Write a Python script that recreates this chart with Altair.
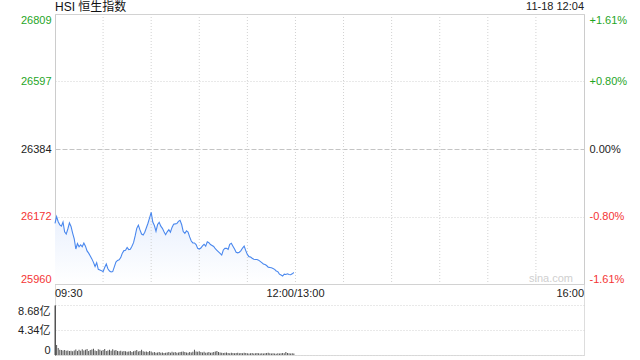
import json
import altair as alt
import pandas as pd

title_text = "HSI 恒生指数"
stamp_text = "11-18 12:04"
watermark = "sina.com"

prices = [
    26151, 26172, 26156, 26146, 26142, 26155, 26124, 26117, 26133, 26152,
    26141, 26120, 26102, 26070, 26087, 26077, 26083, 26077, 26089, 26079,
    26064, 26057, 26048, 26039, 26028, 26015, 26027, 26006, 26004, 26002,
    25999, 26012, 26023, 26008, 26001, 25998, 25999, 26014, 26029, 26034,
    26036, 26043, 26057, 26065, 26066, 26075, 26068, 26069, 26079, 26090,
    26111, 26135, 26145, 26130, 26117, 26114, 26123, 26137, 26151, 26168,
    26185, 26155, 26144, 26126, 26147, 26154, 26142, 26135, 26124, 26115,
    26124, 26131, 26123, 26138, 26148, 26149, 26150, 26157, 26160, 26147,
    26125, 26119, 26127, 26123, 26108, 26095, 26089, 26089, 26084, 26072,
    26070, 26073, 26080, 26085, 26079, 26093, 26090, 26084, 26081, 26078,
    26071, 26066, 26061, 26056, 26051, 26067, 26072, 26072, 26069, 26085,
    26088, 26079, 26070, 26060, 26058, 26060, 26065, 26073, 26079, 26065,
    26053, 26046, 26045, 26041, 26038, 26037, 26037, 26035, 26031, 26027,
    26023, 26021, 26018, 26013, 26012, 26011, 26009, 26006, 26001, 25999,
    25991, 25988, 25985, 25991, 25990, 25992, 25990, 25989, 25992, 25996,
]

volumes = [
    8.6, 1.75, 1.2, 0.9, 0.85, 0.8, 0.85, 0.75, 0.8, 0.7,
    0.75, 0.65, 0.8, 0.95, 0.7, 0.9, 0.75, 1.0, 0.8, 0.9,
    1.05, 0.7, 0.85, 0.95, 1.1, 0.8, 0.7, 1.0, 0.9, 0.75,
    0.85, 1.05, 0.7, 0.8, 0.9, 0.75, 1.0, 0.8, 0.85, 0.7,
    0.65, 0.75, 0.6, 0.7, 0.65, 0.55, 0.6, 0.7, 0.5, 0.65,
    0.75, 0.85, 0.6, 0.7, 0.9, 0.65, 0.55, 0.6, 0.5, 0.7,
    0.6, 0.45, 0.5, 0.4, 0.45, 0.5, 0.4, 0.45, 0.35, 0.4,
    0.45, 0.5, 0.4, 0.55, 0.45, 0.5, 0.4, 0.45, 0.5, 0.55,
    0.6, 0.5, 0.45, 0.4, 0.5, 0.45, 0.55, 0.9, 0.6, 0.55,
    0.65, 0.5, 0.45, 0.55, 0.4, 0.45, 0.5, 0.4, 0.45, 0.5,
    0.6, 0.7, 0.5, 0.45, 0.4, 0.35, 0.4, 0.45, 0.35, 0.3,
    0.4, 0.35, 0.3, 0.35, 0.4, 0.3, 0.35, 0.3, 0.4, 0.35,
    0.3, 0.25, 0.3, 0.35, 0.25, 0.3, 0.35, 0.3, 0.25, 0.3,
    0.25, 0.3, 0.35, 0.4, 0.3, 0.25, 0.3, 0.25, 0.2, 0.3,
    0.25, 0.3, 0.35, 0.3, 0.5, 0.35, 0.3, 0.25, 0.3, 0.25,
]

minutes = list(range(len(prices)))  # minutes since 09:30 (trading time)

y_ticks = [25960, 26172, 26384, 26597, 26809]
pct_labels = ["-1.61%", "-0.80%", "0.00%", "+0.80%", "+1.61%"]
prev_close = 26384
x_ticks = [0, 150, 330]
x_labels = ["09:30", "12:00/13:00", "16:00"]
grid_minutes = [30, 60, 90, 120, 150, 180, 210, 240, 270, 300]
vol_ticks = [0, 4.34, 8.68]
vol_labels = ["0", "4.34亿", "8.68亿"]

GREEN = "#1fa51f"
RED = "#f43434"
FONT = "Liberation Sans, Noto Sans CJK SC"

df = pd.DataFrame({"t": minutes, "price": prices, "vol": volumes})
grid_df = pd.DataFrame({"g": grid_minutes})
one = pd.DataFrame({"k": [0]})

PH = 270  # price panel height
W = 529
H = 341

xscale = alt.Scale(domain=[0, 330], nice=False, zero=False, padding=0)
pscale = alt.Scale(domain=[y_ticks[0], y_ticks[-1]], range=[PH, 0], nice=False, zero=False)
vscale = alt.Scale(domain=[vol_ticks[0], vol_ticks[-1]], range=[H, H - 50], nice=False, zero=True)

label_color = {
    "condition": [
        {"test": f"datum.value > {prev_close}", "value": GREEN},
        {"test": f"datum.value < {prev_close}", "value": RED},
    ],
    "value": "#222222",
}

left_axis = alt.Axis(
    orient="left", values=y_ticks, format="d", labelFlush=True, ticks=False, tickSize=0,
    labelPadding=4, domain=True, domainColor="#cccccc", grid=True,
    gridColor={"condition": {"test": f"datum.value == {prev_close}", "value": "#c4c4c4"}, "value": "#d2d2d2"},
    gridDash={
        "condition": [
            {"test": f"datum.value == {prev_close}", "value": [5, 2]},
            {"test": f"datum.value == {y_ticks[0]} || datum.value == {y_ticks[-1]}", "value": []},
        ],
        "value": [1, 2],
    },
    labelColor=label_color, labelFontSize=11, labelFont=FONT, title=None,
)

right_axis = alt.Axis(
    orient="right", values=y_ticks, labelFlush=True, ticks=False, tickSize=0,
    labelPadding=5, domain=True, domainColor="#cccccc", grid=False,
    labelExpr=f"{json.dumps(pct_labels)}[indexof({json.dumps(y_ticks)}, datum.value)]",
    labelColor=label_color, labelFontSize=11, labelFont=FONT, title=None,
)

vol_axis = alt.Axis(
    orient="left", values=vol_ticks, labelFlush=True, ticks=False, tickSize=0,
    labelPadding=5, domain=True, domainColor="#555555", grid=True, gridColor="#d2d2d2",
    gridDash=[1, 2],
    labelExpr=f"{json.dumps(vol_labels, ensure_ascii=False)}[indexof({json.dumps(vol_ticks)}, datum.value)]",
    labelColor="#222222", labelFontSize=11, labelFont=FONT, title=None,
)

base = alt.Chart(df)

gradient = alt.Gradient(
    gradient="linear",
    stops=[alt.GradientStop(color="#e9f0fd", offset=0), alt.GradientStop(color="#ffffff", offset=1)],
    x1=1, x2=1, y1=0, y2=1,
)

area = base.mark_area(color=gradient).encode(
    x=alt.X("t:Q", scale=xscale, axis=None),
    y=alt.Y("price:Q", scale=pscale, axis=left_axis),
    y2=alt.datum(y_ticks[0]),
)

vgrid = alt.Chart(grid_df).mark_rule(color="#d2d2d2", strokeDash=[1, 2], strokeWidth=1).encode(
    x=alt.X("g:Q", scale=xscale, axis=None),
    y=alt.value(0),
    y2=alt.value(PH),
)

line = base.mark_line(color="#4a88ee", strokeWidth=1.1).encode(
    x=alt.X("t:Q", scale=xscale, axis=None),
    y=alt.Y("price:Q", scale=pscale, axis=right_axis),
)

wm = alt.Chart(one).mark_text(
    text=watermark, color="#cfcfcf", fontSize=11, font=FONT, align="right", baseline="middle"
).encode(x=alt.value(518), y=alt.value(PH - 5))

vol = base.mark_bar(width=1, color="#555555").encode(
    x=alt.X("t:Q", scale=xscale, axis=None),
    y=alt.Y("vol:Q", scale=vscale, axis=vol_axis),
)

# time-axis labels, positioned through the x scale
xlab_layers = []
for tv, lab, al in zip(x_ticks, x_labels, ["left", "center", "right"]):
    xlab_layers.append(
        alt.Chart(pd.DataFrame({"t": [tv], "label": [lab]})).mark_text(
            color="#222222", fontSize=11, font=FONT, align=al, baseline="top"
        ).encode(
            x=alt.X("t:Q", scale=xscale, axis=None),
            y=alt.value(PH + 4),
            text="label:N",
        )
    )

title_mark = alt.Chart(one).mark_text(
    text=title_text, color="#111111", fontSize=12, font=FONT, align="left", baseline="middle"
).encode(x=alt.value(0), y=alt.value(-7))

stamp_mark = alt.Chart(one).mark_text(
    text=stamp_text, color="#222222", fontSize=11, font=FONT, align="right", baseline="middle"
).encode(x=alt.value(W), y=alt.value(-7))

chart = (
    alt.layer(area, vgrid, line, wm, vol, *xlab_layers, title_mark, stamp_mark)
    .resolve_scale(y="independent")
    .properties(
        width=W, height=H,
        padding={"left": 55, "top": 14, "right": 56, "bottom": 5},
        autosize=alt.AutoSizeParams(type="none"),
    )
    .configure_view(stroke=None)
    .configure(font=FONT, background="white")
)

chart.save("out.html", embed_options={"renderer": "svg", "actions": False})
